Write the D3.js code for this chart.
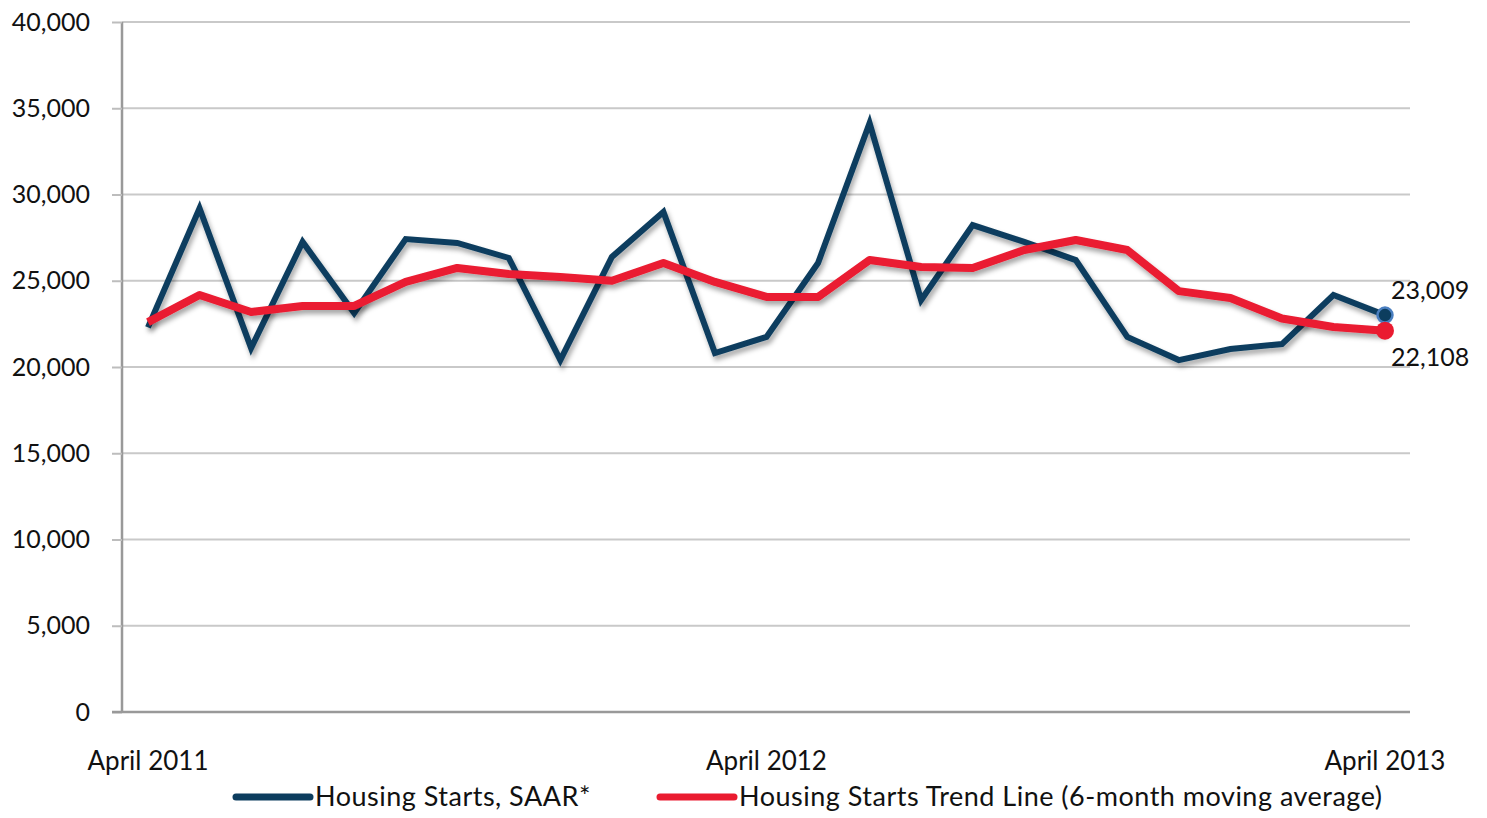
<!DOCTYPE html>
<html>
<head>
<meta charset="utf-8">
<script src="https://cdn.jsdelivr.net/npm/d3@7"></script>
<style>
  body { margin: 0; background: #fff; }
  svg text { font-family: Lato, "DejaVu Sans", sans-serif; fill: #111; }
</style>
</head>
<body>
<div class="chart"></div>
<script>
// months from April 2011 to April 2013
const months = d3.range(25)
const xLabels = [
    { i: 0, text: "April 2011" },
    { i: 12, text: "April 2012" },
    { i: 24, text: "April 2013" }
]
const yTicks = [0, 5000, 10000, 15000, 20000, 25000, 30000, 35000, 40000]

const housingStarts = [22300, 29200, 21100, 27250, 23130, 27420, 27190, 26320, 20400, 26380, 28990, 20810, 21740,
    26030, 34140, 23880, 28230, 27250, 26200, 21740, 20400, 21040, 21330, 24170, 23009]
const trendLine = [22600, 24170, 23190, 23540, 23540, 24930, 25740, 25390, 25220, 25000, 26030, 24930, 24060,
    24060, 26200, 25800, 25740, 26780, 27360, 26780, 24400, 24000, 22810, 22320, 22108]

const seriesNames = ["Housing Starts, SAAR*", "Housing Starts Trend Line (6-month moving average)"]

const margin = { top: 22, right: 77, bottom: 106, left: 122 }
const width = 1487 - margin.left - margin.right
const height = 818 - margin.top - margin.bottom

const svg = d3.select(".chart")
    .append("svg")
    .attr("width", 1487)
    .attr("height", 818)

const defs = svg.append("defs")
defs.append("filter")
    .attr("id", "shadow")
    .attr("x", "-5%").attr("y", "-20%")
    .attr("width", "110%").attr("height", "140%")
    .append("feDropShadow")
    .attr("dx", 2)
    .attr("dy", 4)
    .attr("stdDeviation", 2.5)
    .attr("flood-color", "#000")
    .attr("flood-opacity", 0.35)

const g = svg.append("g")
    .attr("transform", `translate(${margin.left},${margin.top})`)

const x = d3.scaleLinear()
    .domain([0, 24])
    .range([26, 1263])

const y = d3.scaleLinear()
    .domain([0, 40000])
    .range([height, 0])

// gridlines
g.selectAll("line.grid")
    .data(yTicks.slice(1))
    .enter().append("line")
    .attr("class", "grid")
    .attr("x1", 0)
    .attr("x2", width)
    .attr("y1", d => y(d))
    .attr("y2", d => y(d))
    .style("stroke", "#c9c9c9")
    .style("stroke-width", 2)

// y axis
const yAxis = d3.axisLeft(y)
    .tickValues(yTicks)
    .tickSize(10)
    .tickPadding(22)
    .tickFormat(d3.format(","))

g.append("g")
    .attr("class", "y axis")
    .call(yAxis)
    .call(a => a.selectAll("line").style("stroke", "#bdbdbd").style("stroke-width", 2))
    .call(a => a.select(".domain").attr("d", `M0,${y(40000)}V${height}`).style("stroke", "#999").style("stroke-width", 2.5))
    .selectAll("text")
    .style("font-size", "25px")

// bottom axis line
g.append("line")
    .attr("x1", -10)
    .attr("x2", width)
    .attr("y1", height)
    .attr("y2", height)
    .style("stroke", "#999")
    .style("stroke-width", 2.5)

// x labels
g.selectAll(".xlabel")
    .data(xLabels)
    .enter().append("text")
    .attr("class", "xlabel")
    .attr("x", d => x(d.i))
    .attr("y", height + 58)
    .attr("text-anchor", "middle")
    .style("font-size", "26px")
    .text(d => d.text)

const line = d3.line()
    .x((d, i) => x(i))
    .y(d => y(d))

g.append("path")
    .datum(housingStarts)
    .attr("d", line)
    .attr("fill", "none")
    .attr("stroke", "#0c3d5e")
    .attr("stroke-width", 6)
    .attr("stroke-linejoin", "miter")
    .attr("filter", "url(#shadow)")

g.append("path")
    .datum(trendLine)
    .attr("d", line)
    .attr("fill", "none")
    .attr("stroke", "#ea1b30")
    .attr("stroke-width", 8)
    .attr("stroke-linejoin", "round")
    .attr("filter", "url(#shadow)")

// end markers
const last = months.length - 1
g.append("circle")
    .attr("cx", x(last))
    .attr("cy", y(housingStarts[last]))
    .attr("r", 7.5)
    .attr("fill", "#0c3d5e")
    .attr("stroke", "#4a7fc0")
    .attr("stroke-width", 2.5)

g.append("circle")
    .attr("cx", x(last))
    .attr("cy", y(trendLine[last]))
    .attr("r", 9)
    .attr("fill", "#ea1b30")

g.append("text")
    .attr("x", x(last) + 6)
    .attr("y", y(housingStarts[last]) - 16)
    .style("font-size", "25px")
    .text(d3.format(",")(housingStarts[last]))

g.append("text")
    .attr("x", x(last) + 6)
    .attr("y", y(trendLine[last]) + 35)
    .style("font-size", "25px")
    .text(d3.format(",")(trendLine[last]))

// legend
const legend = svg.append("g")
const legendItems = [
    { name: seriesNames[0], color: "#0c3d5e", x: 236 },
    { name: seriesNames[1], color: "#ea1b30", x: 660 }
]
legendItems.forEach(function (d) {
    legend.append("line")
        .attr("x1", d.x)
        .attr("x2", d.x + 74)
        .attr("y1", 797)
        .attr("y2", 797)
        .attr("stroke", d.color)
        .attr("stroke-width", 7)
        .attr("stroke-linecap", "round")
    legend.append("text")
        .attr("x", d.x + 79)
        .attr("y", 806)
        .style("font-size", "27px")
        .style("letter-spacing", "0.5px")
        .text(d.name)
})
</script>
</body>
</html>
